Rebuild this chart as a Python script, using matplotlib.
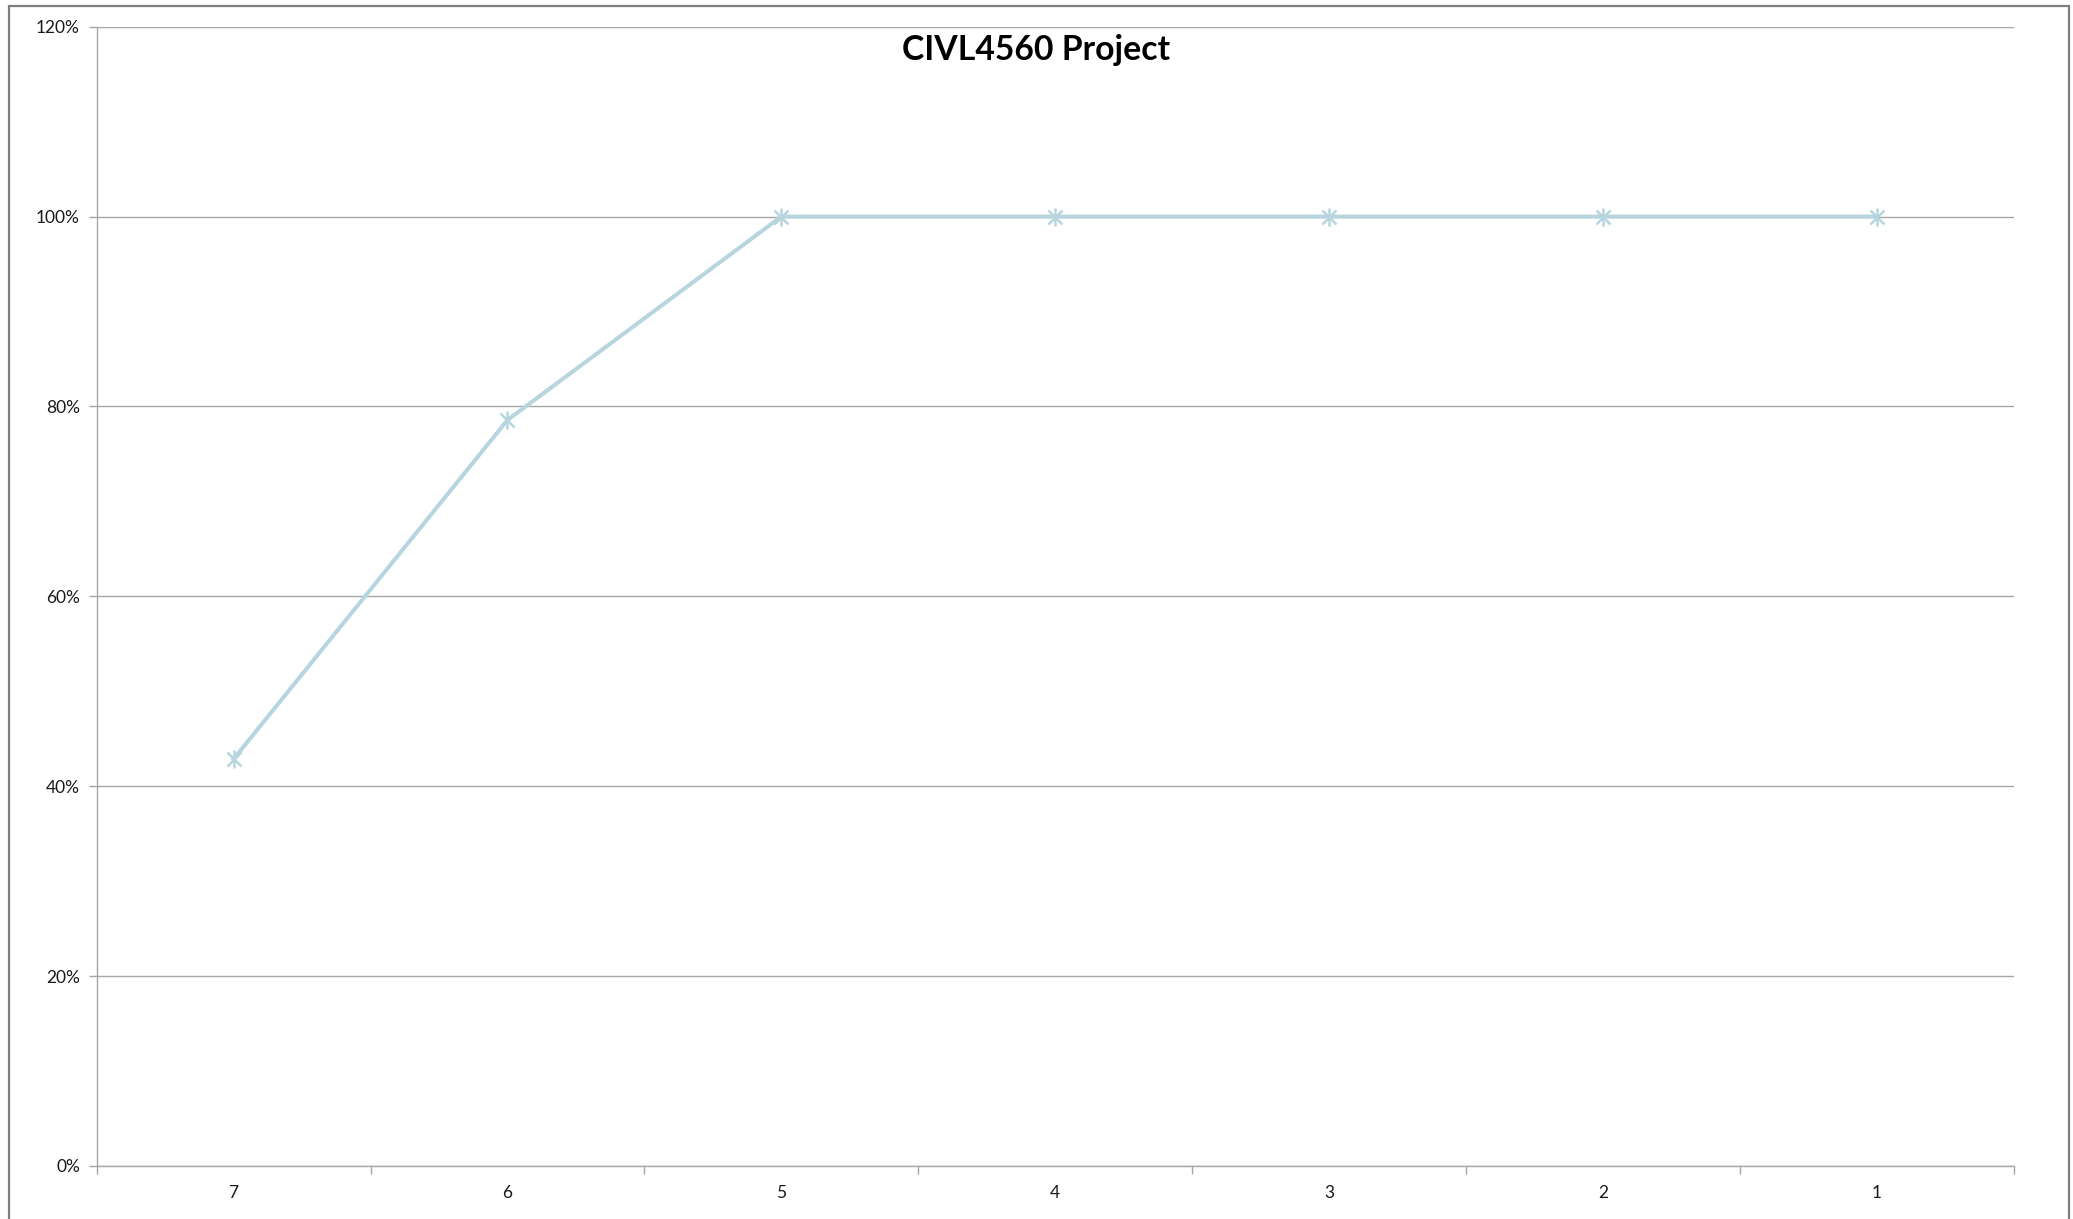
# CIVL4560 Project - line chart with star markers
import numpy as np
import matplotlib.pyplot as plt
from matplotlib.patches import Rectangle
from matplotlib.ticker import PercentFormatter

# Data
categories = ["7", "6", "5", "4", "3", "2", "1"]
values = [0.4286, 0.7857, 1.0, 1.0, 1.0, 1.0, 1.0]
y_ticks = [0.0, 0.2, 0.4, 0.6, 0.8, 1.0, 1.2]

line_color = "#B7D5DF"
grid_color = "#A6A6A6"
text_color = "#1A1A1A"

fig = plt.figure(figsize=(20.73, 12.19), dpi=100)
ax = fig.add_axes([0.0466, 0.0435, 0.9249, 0.9346])

x = np.arange(len(categories))

# line plus star markers (x and | overlaid, like Excel's star)
ax.plot(x, values, color=line_color, linewidth=2.9, zorder=3)
ax.plot(x, values, linestyle="none", marker="x", markersize=10,
        markeredgewidth=1.8, color=line_color, zorder=4)
ax.plot(x, values, linestyle="none", marker="|", markersize=13,
        markeredgewidth=1.8, color=line_color, zorder=4)

# y axis
ax.set_ylim(0, 1.2)
ax.set_yticks(y_ticks)
ax.yaxis.set_major_formatter(PercentFormatter(1.0, decimals=0))
ax.yaxis.grid(True, color=grid_color, linewidth=1.0)
ax.set_axisbelow(True)

# x axis: labels at centres, tick marks at category boundaries
ax.set_xlim(-0.5, len(categories) - 0.5)
ax.set_xticks(x)
ax.set_xticklabels(categories)
ax.set_xticks(np.arange(-0.5, len(categories)), minor=True)
ax.tick_params(axis="x", which="major", length=0, pad=14,
               labelsize=12.5, labelcolor=text_color)
ax.tick_params(axis="x", which="minor", length=6, width=1.0,
               color=grid_color, direction="out")
ax.tick_params(axis="y", length=6, width=1.0, color=grid_color,
               pad=6, labelsize=12.5, labelcolor=text_color)

for s in ["top", "right"]:
    ax.spines[s].set_visible(False)
for s in ["left", "bottom"]:
    ax.spines[s].set_color(grid_color)
    ax.spines[s].set_linewidth(1.0)
for lbl in ax.get_xticklabels() + ax.get_yticklabels():
    lbl.set_family(["Lato", "DejaVu Sans"])

# title inside the plot area
fig.text(0.5, 0.959, "CIVL4560 Project", ha="center", va="center",
         fontsize=24.3, fontweight="bold", family=["Lato", "DejaVu Sans"],
         color="black")

# chart border
fig.patches.append(Rectangle((0.0043, -0.01), 0.9937, 1.005,
                             transform=fig.transFigure, fill=False,
                             edgecolor="#7F7F7F", linewidth=1.6))

plt.savefig("out.png", dpi=100)
